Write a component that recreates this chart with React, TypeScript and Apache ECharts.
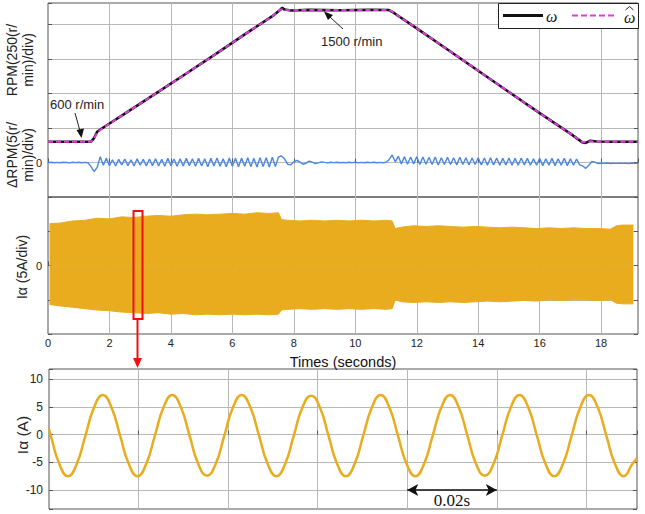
import React, { useEffect, useRef } from "react";
import * as echarts from "echarts";

// ---------- data ----------
const X_MAX = 19.2;

// speed (r/min) vs time (s)
const RPM_T = [0, 1.4, 1.5, 1.6, 1.75, 2.5, 3.5, 4.5, 5.5, 6.5, 7.3, 7.55, 7.62, 7.7, 7.9, 8.5, 9.5, 10.5, 11.1, 11.2, 12, 13, 14, 15, 16, 17, 17.38, 17.5, 17.65, 17.85, 18.3, 19.2];
const OMEGA = [600, 600, 625, 668, 690, 792, 928, 1066, 1205, 1347, 1458, 1500, 1515, 1503, 1497, 1501, 1498, 1501, 1500, 1488, 1375, 1230, 1085, 940, 795, 655, 597, 592, 607, 601, 600, 600];
const OMEGA_HAT = [600, 600, 622, 662, 688, 792, 928, 1066, 1205, 1347, 1458, 1500, 1506, 1500, 1499, 1500, 1500, 1500, 1500, 1490, 1375, 1230, 1085, 940, 795, 655, 599, 596, 603, 600, 600, 600];

// speed error (r/min), sampled every 0.1 s from t = 0
const DRPM_DT = 0.1;
const DRPM = [
  0, 0.04, -0.03, 0.02, -0.04, 0.03, 0.01, -0.05, 0.04, -0.02, 0.03, -0.04, 0.02, -0.03,
  -0.6, -1.3, -0.7, 0.85, -0.4, 0.6,
  -0.45, 0.4, -0.5, 0.45, -0.35, 0.5, -0.45, 0.4, -0.5, 0.55,
  -0.4, 0.45, -0.5, 0.5, -0.45, 0.55, -0.5, 0.45, -0.55, 0.6,
  -0.45, 0.5, -0.55, 0.55, -0.5, 0.6, -0.45, 0.55, -0.55, 0.6,
  -0.5, 0.55, -0.6, 0.6, -0.5, 0.65, -0.55, 0.55, -0.6, 0.65,
  -0.55, 0.6, -0.6, 0.65, -0.55, 0.7, -0.6, 0.6, -0.65, 0.7,
  -0.6, 0.7, -0.65, 0.75, -0.6, 0.8, 0.95, 0.5, -0.25, -0.35,
  0.1, 0.3, 0.05, -0.25, -0.1, 0.2, 0.05, -0.15, -0.05, 0.1,
  0.02,
  -0.05, 0.03, -0.02, 0.04, -0.03, 0.02, -0.04, 0.03, -0.02, 0.04,
  -0.03, 0.02, -0.04, 0.03, -0.02, 0.04, -0.03, 0.02, -0.04, 0.03,
  0.4, 1.1, 0.1, 0.9, -0.2, 0.85, -0.25, 0.8, -0.2,
  0.85, -0.3, 0.8, -0.25, 0.75, -0.3, 0.8, -0.35, 0.7, -0.3,
  0.75, -0.3, 0.7, -0.35, 0.75, -0.3, 0.7, -0.35, 0.65, -0.3,
  0.7, -0.35, 0.65, -0.4, 0.7, -0.35, 0.65, -0.4, 0.6, -0.35,
  0.65, -0.4, 0.6, -0.4, 0.65, -0.35, 0.6, -0.4, 0.55, -0.4,
  0.6, -0.45, 0.55, -0.4, 0.6, -0.45, 0.55, -0.4, 0.6, -0.45,
  0.55, -0.4, 0.5, -0.35,
  -0.5, -0.85, -0.4, 0.15, 0.05, -0.15, -0.1,
  -0.12, -0.08, -0.14, -0.1, -0.13, -0.09, -0.12, -0.1, -0.14, -0.08, -0.12, -0.1,
];

// phase current envelope (A)
const BAND_T = [0.05, 0.4, 0.8, 1.2, 1.6, 2.0, 2.4, 2.8, 3.2, 3.6, 4.0, 4.4, 4.8, 5.2, 5.6, 6.0, 6.4, 6.8, 7.2, 7.5, 7.6, 7.8, 8.2, 8.6, 9.0, 9.4, 9.8, 10.2, 10.6, 11.0, 11.2, 11.3, 11.5, 11.9, 12.3, 12.7, 13.1, 13.5, 13.9, 14.3, 14.7, 15.1, 15.5, 15.9, 16.3, 16.7, 17.1, 17.5, 17.9, 18.3, 18.5, 18.7, 19.05];
const BAND_UP = [6.1, 6.2, 6.5, 6.6, 6.9, 6.8, 7.1, 7.0, 7.2, 7.3, 7.2, 7.4, 7.5, 7.4, 7.5, 7.6, 7.5, 7.7, 7.6, 7.7, 6.7, 6.6, 6.5, 6.6, 6.5, 6.6, 6.5, 6.6, 6.5, 6.6, 6.5, 5.4, 5.6, 5.8, 5.7, 5.8, 5.7, 5.6, 5.7, 5.6, 5.5, 5.6, 5.5, 5.4, 5.5, 5.4, 5.5, 5.4, 5.4, 5.3, 5.8, 5.9, 5.9];
const BAND_LO = [-5.7, -5.9, -6.1, -6.3, -6.5, -6.6, -6.8, -6.9, -7.0, -6.9, -7.1, -7.0, -7.2, -7.1, -7.2, -7.1, -7.2, -7.1, -7.2, -7.1, -6.5, -6.4, -6.3, -6.4, -6.3, -6.4, -6.3, -6.4, -6.3, -6.4, -6.3, -5.0, -5.3, -5.4, -5.3, -5.4, -5.3, -5.4, -5.3, -5.2, -5.3, -5.2, -5.1, -5.2, -5.0, -5.1, -5.0, -5.0, -5.1, -5.0, -5.5, -5.6, -5.6];

// zoomed current waveform (time s, current A)
const SINE_T = [0, 0.0004, 0.00231, 0.00425, 0.00619, 0.00813, 0.01007, 0.01201, 0.01394, 0.01588, 0.01782, 0.01976, 0.0217, 0.02364, 0.02558, 0.02752, 0.02945, 0.03139, 0.03333, 0.03527, 0.03721, 0.03915, 0.04109, 0.04303, 0.04496, 0.0469, 0.04884, 0.05078, 0.05272, 0.05466, 0.0566, 0.05854, 0.06048, 0.06241, 0.06435, 0.06629, 0.06823, 0.07017, 0.07211, 0.07405, 0.07599, 0.07792, 0.07986, 0.0818, 0.08374, 0.08568, 0.08762, 0.08956, 0.0915, 0.09343, 0.09537, 0.09731, 0.09925, 0.10119, 0.10313, 0.10507, 0.10701, 0.10894, 0.11088, 0.11282, 0.11476, 0.1167, 0.11864, 0.12058, 0.12252, 0.12445, 0.12639, 0.12833, 0.13027, 0.1313];
const SINE_I = [
  1.0, -0.2, -5.3,
  -7.5, -5.3, -0.2, 4.9, 7.1, 4.9, -0.2, -5.3,
  -7.5, -5.3, -0.2, 4.9, 7.1, 4.9, -0.2, -5.3,
  -7.4, -5.3, -0.2, 4.9, 7.1, 4.9, -0.2, -5.3,
  -7.5, -5.3, -0.2, 4.9, 7.0, 4.9, -0.2, -5.3,
  -7.5, -5.3, -0.2, 4.9, 7.1, 4.9, -0.2, -5.3,
  -7.5, -5.3, -0.2, 4.9, 7.1, 4.9, -0.2, -5.3,
  -7.4, -5.3, -0.2, 4.9, 7.1, 4.9, -0.2, -5.3,
  -7.5, -5.3, -0.2, 4.9, 7.1, 4.9, -0.2, -5.3,
  -7.5, -5.3, -4.3,
];
const SINE_MAX = 0.1313;

// ---------- styles ----------
const FONT = "'Liberation Sans', Arial, sans-serif";
const SERIF = "'Liberation Serif', 'DejaVu Serif', serif";
const GRID_C = "#b8b8b8";
const FRAME = "#555";
const YELLOW = "#e9ac1f";
const BLUE = "#4a86e2";
const MAGENTA = "#e23ce0";

const split = { show: true, showMinLine: false, showMaxLine: false, lineStyle: { color: GRID_C, width: 1 } };
const tick = { show: true, inside: true, length: 4, lineStyle: { color: FRAME } };
const noLine = { show: false };
const gridBox = { show: true, borderColor: FRAME, borderWidth: 1, backgroundColor: "transparent" };
const zeroOnly = (v: number) => (v === 0 ? "0" : "");

function buildOption(): any {
  return {
    animation: false,
    backgroundColor: "#fff",
    textStyle: { fontFamily: FONT },
    grid: [
      { left: 48, right: 7, top: 3, height: 194, ...gridBox },
      { left: 48, right: 7, top: 197, height: 137, ...gridBox },
      { left: 49, right: 8, top: 369, height: 140, ...gridBox },
    ],
    xAxis: [
      { gridIndex: 0, type: "value", min: 0, max: X_MAX, interval: 2, axisLine: noLine, axisTick: tick, axisLabel: { show: false }, splitLine: split },
      {
        gridIndex: 1, type: "value", min: 0, max: X_MAX, interval: 2, axisLine: noLine, axisTick: tick,
        axisLabel: { show: true, fontSize: 11, color: "#222", margin: 3, showMaxLabel: false, fontFamily: FONT },
        splitLine: split,
        name: "Times (seconds)", nameLocation: "middle", nameGap: 20,
        nameTextStyle: { fontSize: 14.5, color: "#111", fontFamily: FONT },
      },
      { gridIndex: 2, type: "value", min: 0, max: SINE_MAX, interval: 0.02, axisLine: noLine, axisTick: tick, axisLabel: { show: false }, splitLine: split },
    ],
    yAxis: [
      { gridIndex: 0, type: "value", min: -5, max: 23.12, interval: 5, axisLine: noLine, axisTick: tick, axisLabel: { formatter: zeroOnly, fontSize: 11, color: "#222", margin: 6 }, splitLine: split },
      { gridIndex: 0, type: "value", min: 222, max: 1548, show: false },
      { gridIndex: 1, type: "value", min: -10, max: 10, interval: 5, axisLine: noLine, axisTick: tick, axisLabel: { formatter: zeroOnly, fontSize: 11, color: "#222", margin: 6 }, splitLine: split },
      {
        gridIndex: 2, type: "value", min: -13.4, max: 11.8, splitNumber: 5, axisLine: noLine, axisTick: tick,
        axisLabel: { formatter: (v: number) => (Math.abs(v % 5) < 1e-9 ? String(v) : ""), fontSize: 12, color: "#222", margin: 6 },
        splitLine: split,
      },
      { gridIndex: 0, type: "value", position: "right", min: -5, max: 23.12, interval: 5, axisLine: noLine, axisTick: tick, axisLabel: { show: false }, splitLine: { show: false } },
      { gridIndex: 1, type: "value", position: "right", min: -10, max: 10, interval: 5, axisLine: noLine, axisTick: tick, axisLabel: { show: false }, splitLine: { show: false } },
      { gridIndex: 2, type: "value", position: "right", min: -13.4, max: 11.8, splitNumber: 5, axisLine: noLine, axisTick: tick, axisLabel: { show: false }, splitLine: { show: false } },
    ],
    series: [
      {
        name: "ω", type: "line", xAxisIndex: 0, yAxisIndex: 1, symbol: "none", z: 3,
        data: RPM_T.map((t, i) => [t, OMEGA[i]]),
        lineStyle: { color: "#111", width: 2.6 },
      },
      {
        name: "ω̂", type: "line", xAxisIndex: 0, yAxisIndex: 1, symbol: "none", z: 4,
        data: RPM_T.map((t, i) => [t, OMEGA_HAT[i]]),
        lineStyle: { color: MAGENTA, width: 2, type: [5, 3] },
      },
      {
        name: "dRPM", type: "line", xAxisIndex: 0, yAxisIndex: 0, symbol: "none", z: 3,
        data: DRPM.map((v, i) => [i * DRPM_DT, v]),
        lineStyle: { color: BLUE, width: 1.4 },
      },
      {
        name: "bandUp", type: "line", xAxisIndex: 1, yAxisIndex: 2, symbol: "none",
        data: BAND_T.map((t, i) => [t, BAND_UP[i]]),
        lineStyle: { color: YELLOW, width: 1 }, areaStyle: { color: YELLOW, opacity: 1 },
      },
      {
        name: "bandLo", type: "line", xAxisIndex: 1, yAxisIndex: 2, symbol: "none",
        data: BAND_T.map((t, i) => [t, BAND_LO[i]]),
        lineStyle: { color: YELLOW, width: 1 }, areaStyle: { color: YELLOW, opacity: 1 },
      },
      {
        name: "ia", type: "line", xAxisIndex: 2, yAxisIndex: 3, symbol: "none", smooth: true,
        data: SINE_T.map((t, i) => [t, SINE_I[i]]),
        lineStyle: { color: YELLOW, width: 2.5 },
        markLine: {
          silent: true,
          symbol: ["arrow", "arrow"],
          symbolSize: [9, 11],
          lineStyle: { color: "#111", width: 1.6, type: "solid" },
          label: { show: true, position: "insideMiddleBottom", formatter: "0.02s", fontFamily: SERIF, fontSize: 17, color: "#111", distance: 2 },
          data: [[{ coord: [0.08, -10] }, { coord: [0.1, -10] }]],
        },
      },
    ],
    graphic: [
      // legend box
      { type: "rect", z: 100, shape: { x: 498.5, y: 3.5, width: 140, height: 25 }, style: { fill: "#fff", stroke: "#222", lineWidth: 1 } },
      { type: "line", z: 101, shape: { x1: 503, y1: 15.5, x2: 543, y2: 15.5 }, style: { stroke: "#111", lineWidth: 3 } },
      { type: "text", z: 101, x: 546, y: 16, style: { text: "ω", fontSize: 16, fontStyle: "italic", fontFamily: SERIF, fill: "#111", align: "left", verticalAlign: "middle" } },
      { type: "line", z: 101, shape: { x1: 572, y1: 15.5, x2: 615, y2: 15.5 }, style: { stroke: MAGENTA, lineWidth: 2, lineDash: [6, 3] } },
      { type: "text", z: 101, x: 624, y: 17, style: { text: "ω", fontSize: 16, fontStyle: "italic", fontFamily: SERIF, fill: "#111", align: "left", verticalAlign: "middle" } },
      { type: "polyline", z: 101, shape: { points: [[625.5, 10], [629.5, 6.5], [633.5, 10]] }, style: { stroke: "#111", lineWidth: 0.9, fill: "none" } },
      // axis titles
      { type: "text", z: 100, x: 20, y: 60, rotation: Math.PI / 2, style: { text: "RPM(250(r/\nmin)/div)", fontSize: 14, fontFamily: FONT, fill: "#222", align: "center", verticalAlign: "middle", lineHeight: 16 } },
      { type: "text", z: 100, x: 20, y: 155, rotation: Math.PI / 2, style: { text: "ΔRPM(5(r/\nmin)/div)", fontSize: 14, fontFamily: FONT, fill: "#222", align: "center", verticalAlign: "middle", lineHeight: 16 } },
      { type: "text", z: 100, x: 22, y: 267, rotation: Math.PI / 2, style: { text: "Iα (5A/div)", fontSize: 14, fontFamily: FONT, fill: "#222", align: "center", verticalAlign: "middle" } },
      { type: "text", z: 100, x: 22, y: 435, rotation: Math.PI / 2, style: { text: "Iα (A)", fontSize: 15.5, fontFamily: FONT, fill: "#222", align: "center", verticalAlign: "middle" } },
      // 600 r/min annotation
      { type: "text", z: 100, x: 50, y: 104, style: { text: "600 r/min", fontSize: 13, fontFamily: FONT, fill: "#222", align: "left", verticalAlign: "middle" } },
      { type: "line", z: 100, shape: { x1: 75, y1: 113, x2: 80, y2: 131 }, style: { stroke: "#222", lineWidth: 1 } },
      { type: "polygon", z: 100, shape: { points: [[76.5, 130], [84, 128.5], [81.5, 138]] }, style: { fill: "#111" } },
      // 1500 r/min annotation
      { type: "text", z: 100, x: 321, y: 41, style: { text: "1500 r/min", fontSize: 13, fontFamily: FONT, fill: "#222", align: "left", verticalAlign: "middle" } },
      { type: "line", z: 100, shape: { x1: 343, y1: 29, x2: 330, y2: 17 }, style: { stroke: "#222", lineWidth: 1 } },
      { type: "polygon", z: 100, shape: { points: [[324, 11.5], [333, 15], [328, 20]] }, style: { fill: "#111" } },
      // red zoom box and arrow
      { type: "rect", z: 100, shape: { x: 133.5, y: 211, width: 9, height: 108 }, style: { stroke: "#f01010", fill: "none", lineWidth: 2 } },
      { type: "line", z: 100, shape: { x1: 137.5, y1: 320, x2: 137.5, y2: 359 }, style: { stroke: "#f01010", lineWidth: 2 } },
      { type: "polygon", z: 100, shape: { points: [[133, 358], [142, 358], [137.5, 368]] }, style: { fill: "#f01010" } },
    ],
  };
}

export default function App() {
  const ref = useRef<HTMLDivElement>(null);
  useEffect(() => {
    const chart = echarts.init(ref.current as HTMLDivElement, null, { renderer: "svg" });
    chart.setOption(buildOption());
    return () => chart.dispose();
  }, []);
  return (
    <div
      ref={ref}
      style={{ position: "absolute", left: 0, top: 0, width: 645, height: 514, background: "#fff" }}
    />
  );
}
